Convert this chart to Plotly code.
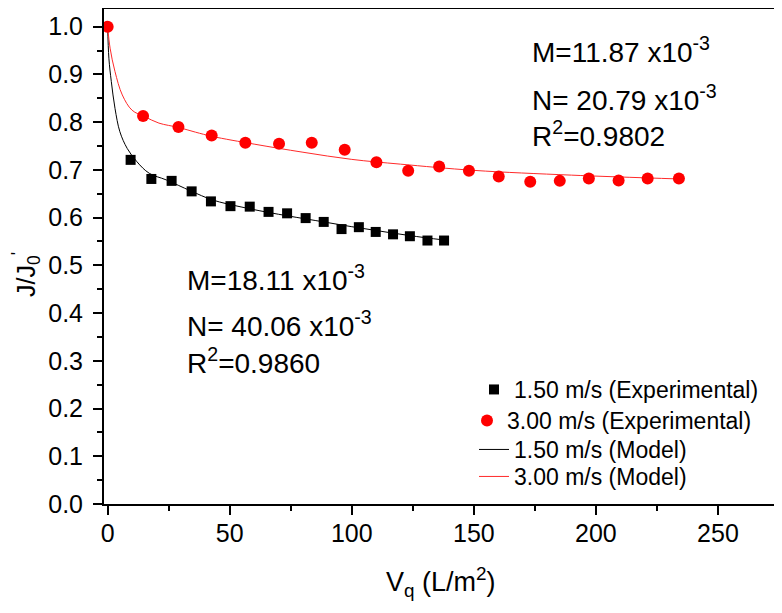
import plotly.graph_objects as go

# ---- data ----
exp_150_x = [9.4, 17.9, 26.2, 34.4, 42.3, 50.3, 58.2, 65.9, 73.5, 81.1, 88.5, 95.8,
             102.9, 109.8, 116.9, 123.8, 131.0, 137.8]
exp_150_y = [0.721, 0.681, 0.677, 0.655, 0.634, 0.624, 0.623, 0.612, 0.609, 0.599,
             0.591, 0.576, 0.580, 0.570, 0.565, 0.561, 0.552, 0.552]

exp_300_x = [0.0, 14.5, 29.0, 42.6, 56.4, 70.2, 83.6, 97.1, 110.1, 123.1, 135.8, 148.0,
             160.2, 173.1, 185.2, 197.1, 209.3, 221.2, 234.0]
exp_300_y = [1.000, 0.813, 0.790, 0.772, 0.757, 0.755, 0.757, 0.742, 0.716, 0.698,
             0.707, 0.698, 0.686, 0.675, 0.677, 0.682, 0.678, 0.682, 0.682]

model_150_x = [0, 0.5, 1.5, 3, 5, 8, 12, 17, 24, 34, 43, 55, 70, 85, 100, 115, 130, 138]
model_150_y = [1.0, 0.934, 0.885, 0.829, 0.780, 0.745, 0.717, 0.693, 0.679, 0.656,
               0.637, 0.622, 0.607, 0.594, 0.581, 0.569, 0.558, 0.553]

model_300_x = [0, 1, 3, 6, 10, 15, 21, 29, 36, 43, 60, 80, 100, 120, 150, 190, 234]
model_300_y = [1.0, 0.955, 0.906, 0.857, 0.825, 0.812, 0.798, 0.789, 0.779, 0.770,
               0.754, 0.737, 0.722, 0.712, 0.699, 0.689, 0.681]

x_ticks = [0, 50, 100, 150, 200, 250]
y_ticks = [0.0, 0.1, 0.2, 0.3, 0.4, 0.5, 0.6, 0.7, 0.8, 0.9, 1.0]
y_ticklabels = ["0.0", "0.1", "0.2", "0.3", "0.4", "0.5", "0.6", "0.7", "0.8", "0.9", "1.0"]

names = ["1.50 m/s (Experimental)", "3.00 m/s (Experimental)",
         "1.50 m/s (Model)", "3.00 m/s (Model)"]

FONT = "Arial, Liberation Sans, sans-serif"

# The page has an 8px body margin, so the figure is sized to fit the window.
OFF = 8
W, H = 782 - OFF, 613 - OFF
L, R, T, B = 96, 3, 1, 109
pw, ph = W - L - R, H - T - B


def pgx(x):
    """page pixel x -> paper fraction"""
    return (x - OFF - L) / pw


def pgy(y):
    """page pixel y -> paper fraction"""
    return (H - B - (y - OFF)) / ph


fig = go.Figure()
fig.add_trace(go.Scatter(x=model_150_x, y=model_150_y, mode="lines", name=names[2],
                         line=dict(color="black", width=1, shape="spline"),
                         legend="legend3"))
fig.add_trace(go.Scatter(x=model_300_x, y=model_300_y, mode="lines", name=names[3],
                         line=dict(color="#ff2a2a", width=1, shape="spline"),
                         legend="legend4"))
fig.add_trace(go.Scatter(x=exp_150_x, y=exp_150_y, mode="markers", name=names[0],
                         marker=dict(symbol="square", size=10, color="black"),
                         legend="legend"))
fig.add_trace(go.Scatter(x=exp_300_x, y=exp_300_y, mode="markers", name=names[1],
                         marker=dict(symbol="circle", size=12, color="#ff0000"),
                         legend="legend2"))

axis_common = dict(showline=True, linecolor="black", linewidth=2, mirror=True,
                   ticks="outside", ticklen=9, tickwidth=2, tickcolor="black",
                   showgrid=False, zeroline=False, automargin=False,
                   tickfont=dict(family=FONT, size=25, color="black"))

fig.update_xaxes(range=[-1.5, 275], tickvals=x_ticks, ticklabelstandoff=-3,
                 minor=dict(ticks="outside", ticklen=5, tickwidth=2, dtick=25,
                            tick0=0, tickcolor="black", showgrid=False),
                 **axis_common)
fig.update_yaxes(range=[0, (504 - 9) / 477.3], tickvals=y_ticks, ticktext=y_ticklabels,
                 ticklabelstandoff=5,
                 minor=dict(ticks="outside", ticklen=5, tickwidth=2, dtick=0.05,
                            tick0=0, tickcolor="black", showgrid=False),
                 **axis_common)

ann_font = dict(family=FONT, size=28, color="black")
annotations = [
    dict(text="M=11.87 x10<sup>-3</sup>", x=pgx(530), y=pgy(50)),
    dict(text="N= 20.79 x10<sup>-3</sup>", x=pgx(530), y=pgy(98)),
    dict(text="R<sup>2</sup>=0.9802", x=pgx(530), y=pgy(134)),
    dict(text="M=18.11 x10<sup>-3</sup>", x=pgx(185), y=pgy(278)),
    dict(text="N= 40.06 x10<sup>-3</sup>", x=pgx(185), y=pgy(324)),
    dict(text="R<sup>2</sup>=0.9860", x=pgx(185), y=pgy(361)),
]
for a in annotations:
    a.update(xref="paper", yref="paper", xanchor="left", yanchor="middle",
             showarrow=False, font=ann_font)

annotations.append(dict(text="V<sub>q</sub> (L/m<sup>2</sup>)", x=pgx(441), y=pgy(582),
                        xref="paper", yref="paper", xanchor="center", yanchor="middle",
                        showarrow=False, font=dict(family=FONT, size=27, color="black")))
annotations.append(dict(text="J/J<sub>0</sub><sup>'</sup>", x=pgx(26), y=pgy(275),
                        xref="paper", yref="paper", xanchor="center", yanchor="middle",
                        textangle=-90, showarrow=False,
                        font=dict(family=FONT, size=25, color="black")))

legend_font = dict(family=FONT, size=23, color="black")


def leg(x_text, y_center):
    return dict(x=pgx(x_text - 42), y=pgy(y_center - 20), xanchor="left", yanchor="top",
                bgcolor="rgba(0,0,0,0)", borderwidth=0, font=legend_font,
                itemsizing="trace")


fig.update_layout(
    width=W, height=H,
    margin=dict(l=L, r=R, t=T, b=B, pad=0, autoexpand=False),
    paper_bgcolor="white", plot_bgcolor="white",
    font=dict(family=FONT, size=23, color="black"),
    annotations=annotations,
    showlegend=True,
    legend=leg(516, 388),
    legend2=leg(509, 419),
    legend3=leg(516, 448),
    legend4=leg(516, 475),
)

fig.write_html("out.html")
